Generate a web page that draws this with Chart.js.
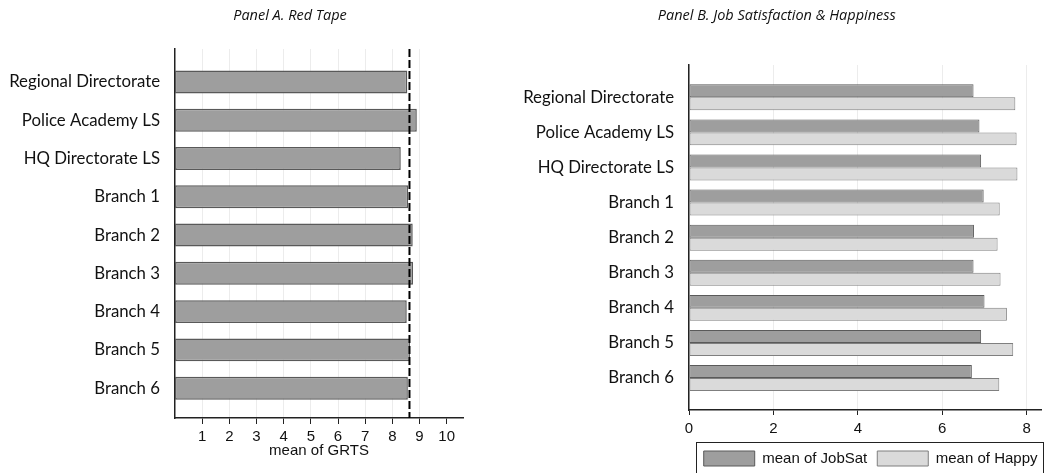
<!DOCTYPE html>
<html><head><meta charset="utf-8">
<script src="https://cdn.jsdelivr.net/npm/chart.js@4.4.1/dist/chart.umd.min.js"></script>
<style>
html,body{margin:0;padding:0;background:#fff;width:1050px;height:473px;overflow:hidden;}
canvas{position:absolute;top:0;}
#a{left:0;width:580px;height:473px;}
#b{left:512px;width:538px;height:473px;}
</style></head><body>
<canvas id="a" width="580" height="473"></canvas>
<canvas id="b" width="538" height="473"></canvas>
<script>
// ---- data ----
const categories = ["Regional Directorate","Police Academy LS","HQ Directorate LS","Branch 1","Branch 2","Branch 3","Branch 4","Branch 5","Branch 6"];
const grtsMeans = [8.55, 8.90, 8.31, 8.58, 8.75, 8.76, 8.53, 8.65, 8.57];
const grtsOverallMean = 8.63;
const jobSatMeans = [6.74, 6.88, 6.92, 6.98, 6.75, 6.74, 7.00, 6.92, 6.70];
const happyMeans  = [7.73, 7.76, 7.78, 7.36, 7.31, 7.38, 7.53, 7.68, 7.35];
const ticksA = [1, 2, 3, 4, 5, 6, 7, 8, 9, 10];
const ticksB = [0, 2, 4, 6, 8];
const titleA = "Panel A. Red Tape";
const titleB = "Panel B. Job Satisfaction & Happiness";
const axisTitleA = "mean of GRTS";
const seriesNamesB = ["mean of JobSat", "mean of Happy"];

const labelFont = {family: "Lato", size: 16.8};
const tickFont = {family: "'Liberation Sans', Arial", size: 15};
const titleFont = {family: "'Open Sans'", size: 14.5, style: "italic", weight: "normal"};

const catTicks = (scale) => { scale.ticks = categories.map((_, i) => ({value: i})); };

const meanLinePlugin = {
  id: 'meanLine',
  afterLayout(chart) {
    // centre the panel title over the plot + label block, as in the original
    if (chart.titleBlock) { chart.titleBlock.left += 117; }
  },
  afterDatasetsDraw(chart) {
    const {ctx, chartArea, scales} = chart;
    const x = scales.x.getPixelForValue(grtsOverallMean);
    ctx.save();
    ctx.strokeStyle = '#000';
    ctx.lineWidth = 2;
    ctx.setLineDash([8, 3]);
    ctx.beginPath();
    ctx.moveTo(x, chartArea.top);
    ctx.lineTo(x, chartArea.bottom);
    ctx.stroke();
    ctx.restore();
  }
};

const legendBoxPlugin = {
  id: 'legendBox',
  afterLayout(chart) {
    const lg = chart.legend;
    if (!lg) return;
    lg.left += 6; lg.right += 6;
    lg.top += 3; lg.bottom += 3;
  },
  afterDraw(chart) {
    const lg = chart.legend;
    if (!lg || !lg.legendHitBoxes || !lg.legendHitBoxes.length) return;
    const hb = lg.legendHitBoxes;
    const first = hb[0], last = hb[hb.length - 1];
    const left = first.left - 8, right = last.left + last.width + 5;
    const top = first.top - 9.5, bottom = chart.height;
    const ctx = chart.ctx;
    ctx.save();
    ctx.strokeStyle = '#222';
    ctx.lineWidth = 1;
    ctx.strokeRect(Math.round(left) + 0.5, Math.round(top) + 0.5, Math.round(right - left), Math.round(bottom - top) - 1);
    ctx.restore();
  }
};

Chart.defaults.devicePixelRatio = 1;
Chart.defaults.color = '#111';

new Chart(document.getElementById('a'), {
  type: 'bar',
  data: {
    datasets: [{
      label: axisTitleA,
      data: grtsMeans.map((v, i) => ({x: v, y: i})),
      backgroundColor: '#9e9e9e',
      borderColor: '#595959',
      borderWidth: 1.5,
      borderSkipped: false,
      barPercentage: 0.6,
      categoryPercentage: 1
    }]
  },
  options: {
    indexAxis: 'y',
    responsive: false,
    animation: false,
    layout: {padding: {left: 0, right: 117, top: 0, bottom: 0}},
    plugins: {
      legend: {display: false},
      tooltip: {enabled: false},
      title: {display: true, text: titleA, font: titleFont, color: '#111', padding: {top: 7.3, bottom: 24.3}}
    },
    scales: {
      x: {
        type: 'linear', min: 0, max: 10.6, offset: false,
        afterBuildTicks: (s) => { s.ticks = ticksA.map(v => ({value: v})); },
        afterFit: (s) => { s.height = 55; },
        grid: {color: (c) => (c.tick && c.tick.value >= 10) ? 'rgba(0,0,0,0)' : '#ececec', tickColor: '#222', tickLength: 6, drawTicks: true},
        border: {display: true, color: '#222', width: 1.5},
        ticks: {font: tickFont, color: '#111', padding: 4, maxRotation: 0, autoSkip: false},
        title: {display: true, text: axisTitleA, font: tickFont, color: '#111', padding: {top: 0, bottom: 13}}
      },
      y: {
        type: 'linear', min: -0.863, max: 8.78, reverse: true, offset: false,
        afterBuildTicks: catTicks,
        afterFit: (s) => { s.width = 175; },
        grid: {display: false, drawTicks: false},
        border: {display: true, color: '#222', width: 1.5},
        ticks: {font: labelFont, color: '#111', padding: 15, autoSkip: false, callback: (v) => categories[v]}
      }
    }
  },
  plugins: [meanLinePlugin]
});

new Chart(document.getElementById('b'), {
  type: 'bar',
  data: {
    datasets: [{
      label: seriesNamesB[0],
      data: jobSatMeans.map((v, i) => ({x: v, y: i})),
      backgroundColor: '#9e9e9e',
      borderColor: '#5a5a5a',
      borderWidth: 1,
      borderSkipped: false,
      barPercentage: 1,
      categoryPercentage: 0.74
    }, {
      label: seriesNamesB[1],
      data: happyMeans.map((v, i) => ({x: v, y: i})),
      backgroundColor: '#dadada',
      borderColor: '#7f7f7f',
      borderWidth: 1,
      borderSkipped: false,
      barPercentage: 1,
      categoryPercentage: 0.74
    }]
  },
  options: {
    indexAxis: 'y',
    responsive: false,
    animation: false,
    layout: {padding: {left: 0, right: 8.5, top: 0, bottom: 0}},
    plugins: {
      legend: {
        display: true, position: 'bottom', align: 'end',
        labels: {boxWidth: 51, boxHeight: 15, font: tickFont, color: '#111', padding: 10}
      },
      tooltip: {enabled: false},
      title: {display: true, text: titleB, font: titleFont, color: '#111', padding: {top: 7.3, bottom: 40.3}}
    },
    scales: {
      x: {
        type: 'linear', min: 0, max: 8.35, offset: false,
        afterBuildTicks: (s) => { s.ticks = ticksB.map(v => ({value: v})); },
        afterFit: (s) => { s.height = 28; },
        grid: {color: '#ececec', tickColor: '#222', tickLength: 5},
        border: {display: true, color: '#222', width: 1.5},
        ticks: {font: tickFont, color: '#111', padding: 5, maxRotation: 0, autoSkip: false}
      },
      y: {
        type: 'linear', min: -0.92, max: 8.91, reverse: true, offset: false,
        afterBuildTicks: catTicks,
        afterFit: (s) => { s.width = 177; },
        grid: {display: false, drawTicks: false},
        border: {display: true, color: '#222', width: 1.5},
        ticks: {font: labelFont, color: '#111', padding: 15, autoSkip: false, callback: (v) => categories[v]}
      }
    }
  },
  plugins: [legendBoxPlugin]
});
</script>
</body></html>
